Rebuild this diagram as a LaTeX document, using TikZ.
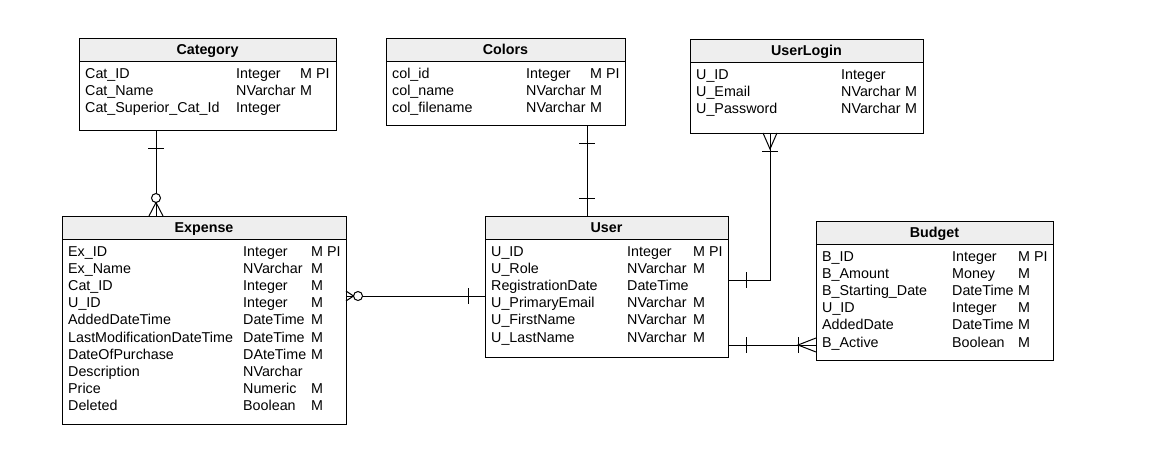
\documentclass[tikz,border=0pt]{standalone}
\usepackage{fontspec}
\setmainfont{Liberation Sans}
\usetikzlibrary{calc}
\definecolor{hdrgray}{HTML}{EEEEEE}
\newcommand{\ertable}[9]{%
  \node[box, minimum width=#4pt, minimum height=#5pt] (#1) at (#2,#3) {};
  \node[hdr, minimum width=#4pt, minimum height=23.5pt] (#1H) at (#2,#3) {};
  \node[ttl] (#1T) at ($(#1H.center)+(0,5)$) {#6};
  \foreach \n/\t/\m [count=\i from 0] in {#9} {
    \node[fld] (#1-n\i) at ($(#1.north west)+(6,40+17.2*\i)$) {\n};
    \node[fld] (#1-t\i) at ($(#1.north west)+(#7,40+17.2*\i)$) {\t};
    \node[fld] (#1-m\i) at ($(#1.north west)+(#8,40+17.2*\i)$) {\m};
  }%
}
\begin{document}
\begin{tikzpicture}[x=1pt,y=-1pt,
  box/.style={draw=black, line width=1pt, anchor=north west, inner sep=0pt, outer sep=0pt},
  hdr/.style={box, fill=hdrgray},
  ttl/.style={anchor=base, inner sep=0pt, font=\bfseries\fontsize{14.3}{17}\selectfont},
  fld/.style={anchor=base west, inner sep=0pt, font=\fontsize{14.3}{17}\selectfont},
  conn/.style={line width=1pt, draw=black}]
\useasboundingbox (0,0) rectangle (1157,461);

\ertable{cat}{79}{38}{257}{92}{Category}{157}{221}{Cat\_ID/Integer/M PI, Cat\_Name/NVarchar/M, Cat\_Superior\_Cat\_Id/Integer/{}}
\ertable{col}{386}{38}{239}{87}{Colors}{140}{204}{col\_id/Integer/M PI, col\_name/NVarchar/M, col\_filename/NVarchar/M}
\ertable{ul}{690}{39}{233}{94}{UserLogin}{151}{215}{U\_ID/Integer/{}, U\_Email/NVarchar/M, U\_Password/NVarchar/M}
\ertable{exp}{62}{216}{284}{208}{Expense}{181}{249}{Ex\_ID/Integer/M PI, Ex\_Name/NVarchar/M, Cat\_ID/Integer/M, U\_ID/Integer/M, AddedDateTime/DateTime/M, LastModificationDateTime/DateTime/M, DateOfPurchase/DAteTime/M, Description/NVarchar/{}, Price/Numeric/M, Deleted/Boolean/M}
\ertable{usr}{485}{216}{243}{141}{User}{142}{208}{U\_ID/Integer/M PI, U\_Role/NVarchar/M, RegistrationDate/DateTime/{}, U\_PrimaryEmail/NVarchar/M, U\_FirstName/NVarchar/M, U\_LastName/NVarchar/M}
\ertable{bud}{816}{221}{237}{139}{Budget}{136}{202}{B\_ID/Integer/M PI, B\_Amount/Money/M, B\_Starting\_Date/DateTime/M, U\_ID/Integer/M, AddedDate/DateTime/M, B\_Active/Boolean/M}

% Category -- Expense
\coordinate (a1) at ($(cat.south west)+(77,0)$);
\coordinate (b1) at (a1 |- exp.north);
\draw[conn] (a1) -- (b1);
\draw[conn] ($(a1)+(-8,18)$) -- ++(16,0);
\draw[conn, fill=white] ($(b1)+(0,-18)$) circle[radius=4.5pt];
\draw[conn] ($(b1)+(-7,0)$) -- ($(b1)+(0,-13.5)$) -- ($(b1)+(7,0)$);

% Colors -- User
\coordinate (a2) at ($(col.south west)+(201,0)$);
\coordinate (b2) at (a2 |- usr.north);
\draw[conn] (a2) -- (b2);
\draw[conn] ($(a2)+(-8,18)$) -- ++(16,0);
\draw[conn] ($(b2)+(-8,-18)$) -- ++(16,0);

% UserLogin -- User
\coordinate (a3) at ($(ul.south west)+(80,0)$);
\coordinate (b3) at ($(usr.north east)+(0,64)$);
\draw[conn] (a3) |- (b3);
\draw[conn] ($(a3)+(-7,0)$) -- ($(a3)+(0,16)$) -- ($(a3)+(7,0)$);
\draw[conn] ($(a3)+(-8,18)$) -- ++(16,0);
\draw[conn] ($(b3)+(18,-8)$) -- ++(0,16);

% User -- Budget
\coordinate (a4) at ($(usr.north east)+(0,129)$);
\coordinate (b4) at (a4 -| bud.west);
\draw[conn] (a4) -- (b4);
\draw[conn] ($(a4)+(18,-8)$) -- ++(0,16);
\draw[conn] ($(b4)+(-18,-8)$) -- ++(0,16);
\draw[conn] ($(b4)+(0,-7)$) -- ($(b4)+(-18,0)$) -- ($(b4)+(0,7)$);

% Expense -- User
\coordinate (a5) at ($(exp.north east)+(0,80)$);
\coordinate (b5) at (a5 -| usr.west);
\draw[conn] (a5) -- (b5);
\draw[conn, fill=white] ($(a5)+(12,0)$) circle[radius=4.5pt];
\draw[conn] ($(a5)+(0,-5)$) -- ($(a5)+(7.5,0)$) -- ($(a5)+(0,5)$);
\draw[conn] ($(b5)+(-17,-8)$) -- ++(0,16);
\end{tikzpicture}
\end{document}
